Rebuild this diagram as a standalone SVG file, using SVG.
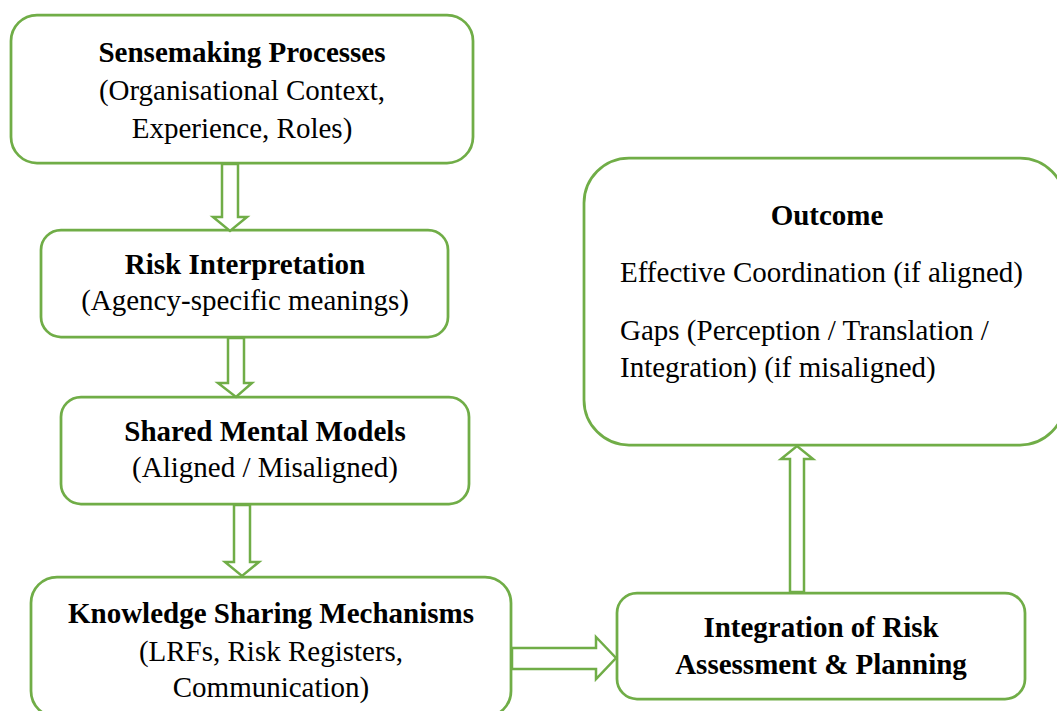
<svg xmlns="http://www.w3.org/2000/svg" width="1057" height="711" viewBox="0 0 1057 711">
  <style>
    .box { fill: #ffffff; stroke: #70AD47; stroke-width: 2.75; }
    .arr { fill: #ffffff; stroke: #70AD47; stroke-width: 2.5; stroke-linejoin: miter; }
    text { font-family: "Liberation Serif", "Times New Roman", serif; font-size: 29px; fill: #000000; }
    .b { font-weight: bold; }
    .c { text-anchor: middle; }
  </style>
  <rect x="0" y="0" width="1057" height="711" fill="#ffffff"/>

  <g id="node-sensemaking">
    <rect class="box" x="11" y="15" width="462" height="148" rx="26" ry="26"/>
    <text class="b c" x="242" y="62">Sensemaking Processes</text>
    <text class="c" x="242" y="100">(Organisational Context,</text>
    <text class="c" x="242" y="138">Experience, Roles)</text>
  </g>

  <g id="node-risk-interpretation">
    <rect class="box" x="41" y="230" width="407" height="107" rx="20" ry="20"/>
    <text class="b c" x="245" y="274">Risk Interpretation</text>
    <text class="c" x="245" y="310">(Agency-specific meanings)</text>
  </g>

  <g id="node-shared-mental-models">
    <rect class="box" x="61" y="397" width="408" height="107" rx="20" ry="20"/>
    <text class="b c" x="265" y="441">Shared Mental Models</text>
    <text class="c" x="265" y="477">(Aligned / Misaligned)</text>
  </g>

  <g id="node-knowledge-sharing">
    <rect class="box" x="31" y="577" width="480" height="140" rx="26" ry="26"/>
    <text class="b c" x="271" y="623">Knowledge Sharing Mechanisms</text>
    <text class="c" x="271" y="661">(LRFs, Risk Registers,</text>
    <text class="c" x="271" y="697">Communication)</text>
  </g>

  <g id="node-integration">
    <rect class="box" x="617" y="593" width="408" height="106" rx="20" ry="20"/>
    <text class="b c" x="821" y="637">Integration of Risk</text>
    <text class="b c" x="821" y="674">Assessment &amp; Planning</text>
  </g>

  <g id="node-outcome">
    <rect class="box" x="584" y="158" width="481" height="287" rx="45" ry="45"/>
    <text class="b c" x="827" y="225">Outcome</text>
    <text x="620" y="282">Effective Coordination (if aligned)</text>
    <text x="620" y="340">Gaps (Perception / Translation /</text>
    <text x="620" y="377">Integration) (if misaligned)</text>
  </g>

  <g id="connectors">
    <polygon class="arr" points="222,164 238,164 238,217 247,217 230,231 213,217 222,217"/>
    <polygon class="arr" points="228,338 244,338 244,383 252,383 236,397 218,383 228,383"/>
    <polygon class="arr" points="234,505 250,505 250,562 259,562 242,576 225,562 234,562"/>
    <polygon class="arr" points="512,648 596,648 596,637 616,658 596,679 596,669 512,669"/>
    <polygon class="arr" points="790,592 804,592 804,459 813,459 797,446 781,459 790,459"/>
  </g>
</svg>
